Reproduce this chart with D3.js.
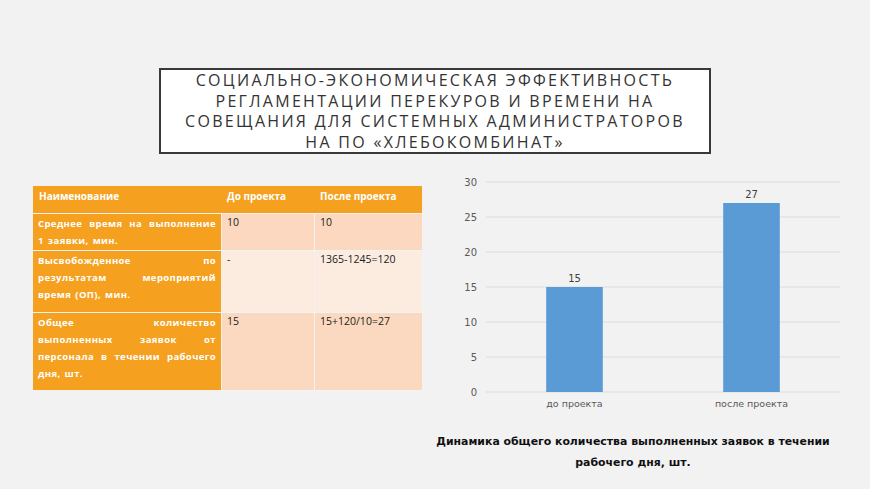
<!DOCTYPE html>
<html>
<head>
<meta charset="utf-8">
<script src="https://cdn.jsdelivr.net/npm/d3@7"></script>
<style>
  body { margin: 0; background: #f2f2f2; }
  svg { display: block; }
</style>
</head>
<body>
<div id="chart"></div>
<script>
// slide data
const titleLines = [
  'СОЦИАЛЬНО-ЭКОНОМИЧЕСКАЯ ЭФФЕКТИВНОСТЬ',
  'РЕГЛАМЕНТАЦИИ ПЕРЕКУРОВ И ВРЕМЕНИ НА',
  'СОВЕЩАНИЯ ДЛЯ СИСТЕМНЫХ АДМИНИСТРАТОРОВ',
  'НА ПО «ХЛЕБОКОМБИНАТ»'
];
const tableHeader = ['Наименование', 'До проекта', 'После проекта'];
const rowNames = [
  ['Среднее время на выполнение', '1 заявки, мин.'],
  ['Высвобожденное по', 'результатам мероприятий', 'время (ОП), мин.'],
  ['Общее количество', 'выполненных заявок от', 'персонала в течении рабочего', 'дня, шт.']
];
const beforeValues = ['10', '-', '15'];
const afterValues = ['10', '1365-1245=120', '15+120/10=27'];

const categories = ['до проекта', 'после проекта'];
const values = [15, 27];
const yTicks = [0, 5, 10, 15, 20, 25, 30];
const captionLines = ['Динамика общего количества выполненных заявок в течении', 'рабочего дня, шт.'];

const width = 870, height = 489;
const svg = d3.select('#chart').append('svg')
  .attr('width', width)
  .attr('height', height);

svg.append('rect').attr('width', width).attr('height', height).attr('fill', '#f2f2f2');

// title box
svg.append('rect')
  .attr('x', 160).attr('y', 69).attr('width', 550).attr('height', 84)
  .attr('fill', '#fff').attr('stroke', '#3a3a3a').attr('stroke-width', 2);

svg.append('g').selectAll('text')
  .data(titleLines)
  .enter().append('text')
  .attr('x', 435)
  .attr('y', (d, i) => 86 + i * 20.5)
  .attr('text-anchor', 'middle')
  .style('font-family', '"Open Sans", sans-serif')
  .style('font-size', '16px')
  .style('letter-spacing', '2.3px')
  .style('fill', '#333')
  .text(d => d);

// table
const colX = [33, 221, 314, 422];
const rowY = [186, 213, 250, 312, 390];
const orange = '#f5a11f';
const cellFills = ['#fbd8bf', '#fcebdf', '#fbd8c0'];
const tbl = svg.append('g');

tbl.append('rect')
  .attr('x', colX[0]).attr('y', rowY[0])
  .attr('width', colX[3] - colX[0]).attr('height', rowY[1] - rowY[0])
  .attr('fill', orange);

tableHeader.forEach((h, i) => {
  tbl.append('text')
    .attr('x', colX[i] + 6).attr('y', rowY[0] + 14)
    .style('font-family', '"Open Sans", sans-serif')
    .style('font-size', '10px')
    .style('font-weight', 'bold')
    .style('fill', '#fff')
    .text(h);
});

const fontTbl = '"Open Sans", sans-serif';
rowNames.forEach((lines, r) => {
  const y0 = rowY[r + 1] + 1, y1 = rowY[r + 2];
  tbl.append('rect').attr('x', colX[0]).attr('y', y0)
    .attr('width', colX[1] - colX[0]).attr('height', y1 - y0).attr('fill', orange);
  tbl.append('rect').attr('x', colX[1] + 1).attr('y', y0)
    .attr('width', colX[2] - colX[1] - 1).attr('height', y1 - y0).attr('fill', cellFills[r]);
  tbl.append('rect').attr('x', colX[2] + 1).attr('y', y0)
    .attr('width', colX[3] - colX[2] - 1).attr('height', y1 - y0).attr('fill', cellFills[r]);

  // justified name lines
  const left = colX[0] + 5, right = colX[1] - 5;
  lines.forEach((line, li) => {
    const y = y0 + 13 + li * 17;
    const words = line.split(' ');
    const last = li === lines.length - 1;
    const nodes = words.map(w => tbl.append('text')
      .attr('y', y)
      .style('font-family', fontTbl)
      .style('font-size', '9.5px')
      .style('font-weight', 'bold')
      .style('letter-spacing', '0.4px')
      .style('fill', '#fff')
      .text(w));
    const widths = nodes.map(n => n.node().getComputedTextLength());
    const total = d3.sum(widths);
    let gap = 4;
    if (!last && words.length > 1) gap = (right - left - total) / (words.length - 1);
    let x = left;
    nodes.forEach((n, k) => { n.attr('x', x); x += widths[k] + gap; });
  });

  tbl.append('text')
    .attr('x', colX[1] + 6).attr('y', y0 + 12)
    .style('font-family', fontTbl).style('font-size', '10.5px').style('fill', '#222')
    .text(beforeValues[r]);
  tbl.append('text')
    .attr('x', colX[2] + 6).attr('y', y0 + 12)
    .style('font-family', fontTbl).style('font-size', '10.5px').style('fill', '#222')
    .text(afterValues[r]);
});

// bar chart
const plot = { left: 486, right: 840, top: 182, bottom: 392 };
const x = d3.scaleBand().domain(categories).range([plot.left, plot.right]).paddingInner(0.68).paddingOuter(0.34);
const y = d3.scaleLinear().domain([0, 30]).range([plot.bottom, plot.top]);

const g = svg.append('g');
g.append('g')
  .selectAll('line')
  .data(yTicks)
  .enter().append('line')
  .attr('x1', plot.left).attr('x2', plot.right)
  .attr('y1', d => y(d)).attr('y2', d => y(d))
  .attr('stroke', '#dcdcdc').attr('stroke-width', 1);

const yAxis = g.append('g')
  .attr('transform', `translate(${plot.left - 9},0)`)
  .call(d3.axisLeft(y).tickValues(yTicks).tickSize(0).tickPadding(0));
yAxis.select('.domain').remove();
yAxis.selectAll('text')
  .style('font-family', '"DejaVu Sans", Verdana, sans-serif')
  .style('font-size', '10px')
  .style('fill', '#595959');

g.selectAll('.bar')
  .data(values)
  .enter().append('rect')
  .attr('class', 'bar')
  .attr('x', (d, i) => x(categories[i]))
  .attr('width', x.bandwidth())
  .attr('y', d => y(d))
  .attr('height', d => y(0) - y(d))
  .attr('fill', '#5b9bd5');

g.selectAll('.lbl')
  .data(values)
  .enter().append('text')
  .attr('x', (d, i) => x(categories[i]) + x.bandwidth() / 2)
  .attr('y', d => y(d) - 5)
  .attr('text-anchor', 'middle')
  .style('font-family', '"DejaVu Sans", Verdana, sans-serif')
  .style('font-size', '10px')
  .style('fill', '#404040')
  .text(d => d);

const xAxis = g.append('g')
  .attr('transform', `translate(0,${plot.bottom + 4})`)
  .call(d3.axisBottom(x).tickSize(0).tickPadding(4));
xAxis.select('.domain').remove();
xAxis.selectAll('text')
  .style('font-family', '"DejaVu Sans", Verdana, sans-serif')
  .style('font-size', '9.5px')
  .style('fill', '#595959');

// caption
svg.append('g').selectAll('text')
  .data(captionLines)
  .enter().append('text')
  .attr('x', 633)
  .attr('y', (d, i) => 445 + i * 21)
  .attr('text-anchor', 'middle')
  .style('font-family', '"DejaVu Sans", Verdana, sans-serif')
  .style('font-size', '10.9px')
  .style('font-weight', 'bold')
  .style('fill', '#111')
  .text(d => d);
</script>
</body>
</html>
